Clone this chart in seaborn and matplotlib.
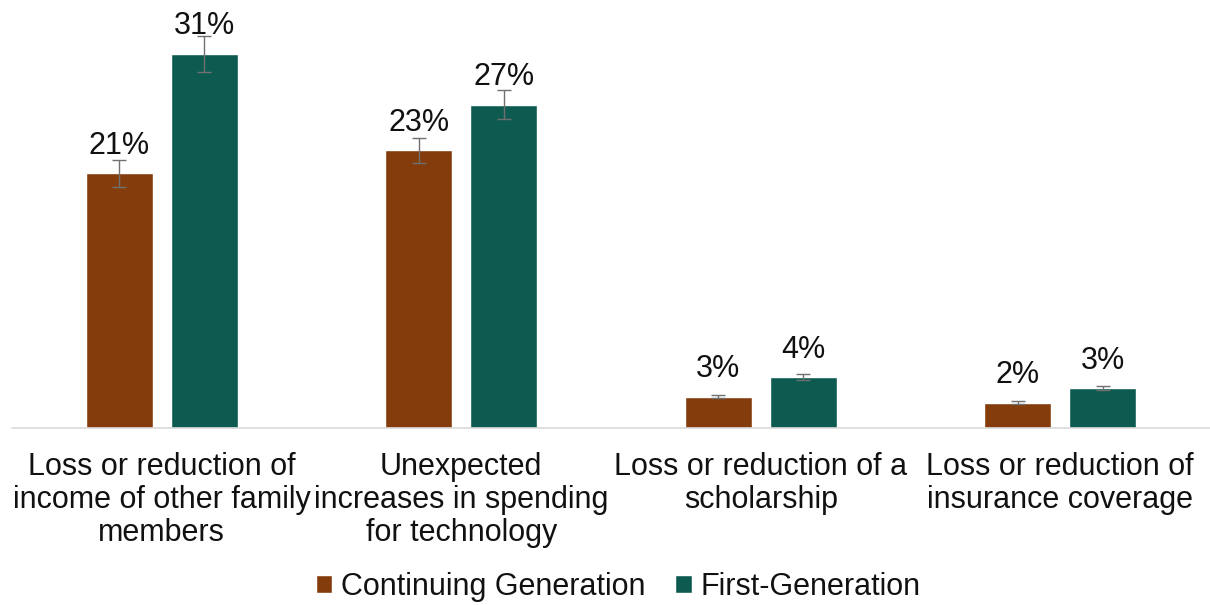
import numpy as np
import pandas as pd
import matplotlib
matplotlib.use("Agg")
import matplotlib.pyplot as plt
import seaborn as sns

# --------------------------------------------------
# Data
# --------------------------------------------------
categories = [
    "Loss or reduction of\nincome of other family\nmembers",
    "Unexpected\nincreases in spending\nfor technology",
    "Loss or reduction of a\nscholarship",
    "Loss or reduction of\ninsurance coverage",
]
groups = ["Continuing Generation", "First-Generation"]
continuing = [21.1, 23.0, 2.6, 2.1]
first_gen = [31.0, 26.8, 4.2, 3.3]
continuing_err = [1.1, 1.0, 0.15, 0.12]
first_gen_err = [1.5, 1.2, 0.25, 0.15]
continuing_labels = ["21%", "23%", "3%", "2%"]
first_gen_labels = ["31%", "27%", "4%", "3%"]

colors = ["#843C0C", "#0D5A50"]

df = pd.DataFrame({
    "category": categories * 2,
    "group": [groups[0]] * 4 + [groups[1]] * 4,
    "value": continuing + first_gen,
    "err": continuing_err + first_gen_err,
    "label": continuing_labels + first_gen_labels,
})

# --------------------------------------------------
# Plot
# --------------------------------------------------
sns.set_style("white")
plt.rcParams["font.family"] = ["Liberation Sans", "DejaVu Sans"]

fig = plt.figure(figsize=(12.1, 6.05), dpi=100)
ax = fig.add_axes([0.01, 0.2926, 0.99, 0.698])

sns.barplot(data=df, x="category", y="value", hue="group", hue_order=groups,
            palette=colors, order=categories, errorbar=None, width=0.567,
            gap=0.21, saturation=1, ax=ax)

# error bars + value labels from the drawn bars
for container, g in zip(ax.containers, groups):
    sub = df[df["group"] == g].set_index("category").loc[categories]
    for bar, v, e, lab in zip(container.patches, sub["value"], sub["err"], sub["label"]):
        xc = bar.get_x() + bar.get_width() / 2
        ax.errorbar(xc, v, yerr=e, fmt="none", ecolor="#707070",
                    elinewidth=1, capsize=5, capthick=1)
        ax.annotate(lab, (xc, v), xytext=(0, 9), textcoords="offset points",
                    ha="center", va="bottom", fontsize=22, color="#111111")

ax.set_ylim(0, 35)
ax.set_xlim(-0.5, 3.5)
ax.set_xlabel("")
ax.set_ylabel("")
ax.set_yticks([])
ax.tick_params(axis="x", length=0, labelsize=22, pad=17, labelcolor="#111111")
for t in ax.get_xticklabels():
    t.set_linespacing(1.15)
for s in ["top", "left", "right"]:
    ax.spines[s].set_visible(False)
ax.spines["bottom"].set_color("#d9d9d9")
ax.spines["bottom"].set_linewidth(1.2)

handles, labels = ax.get_legend_handles_labels()
ax.get_legend().remove()
fig.legend(handles, labels, loc="center", bbox_to_anchor=(0.511, 1 - 587 / 605),
           ncol=2, frameon=False, fontsize=22, handlelength=0.55, handleheight=0.55,
           handletextpad=0.3, columnspacing=0.95, labelcolor="#111111")

fig.savefig("out.png", dpi=100)
plt.close(fig)
